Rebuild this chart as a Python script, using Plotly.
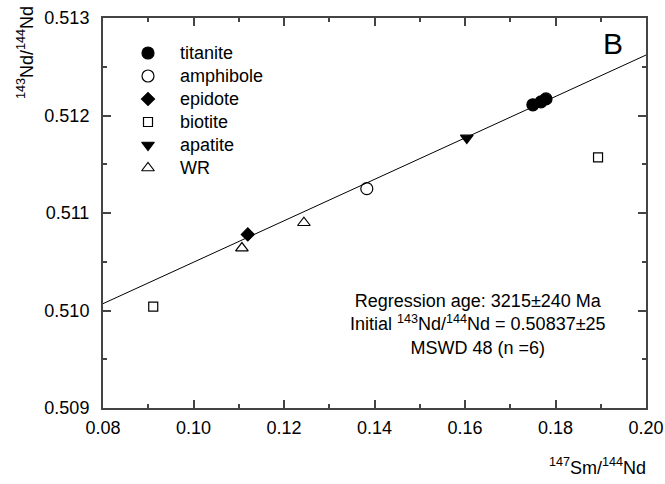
import plotly.graph_objects as go

# ---- data ----
titanite_x = [0.1750, 0.1768, 0.1779]
titanite_y = [0.51211, 0.51214, 0.51217]
amphibole_x = [0.1383]
amphibole_y = [0.51125]
epidote_x = [0.1120]
epidote_y = [0.51078]
biotite_x = [0.0911, 0.1894]
biotite_y = [0.51004, 0.51157]
apatite_x = [0.1604]
apatite_y = [0.51177]
wr_x = [0.1107, 0.1244]
wr_y = [0.51064, 0.51090]

# regression (isochron) parameters
iso_intercept = 0.50837
iso_slope = 0.02125
x_range = [0.08, 0.20]
y_range = [0.509, 0.513]
x_ticks = [0.08, 0.10, 0.12, 0.14, 0.16, 0.18, 0.20]
x_ticklabels = ["0.08", "0.10", "0.12", "0.14", "0.16", "0.18", "0.20"]
y_ticks = [0.509, 0.510, 0.511, 0.512, 0.513]
y_ticklabels = ["0.509", "0.510", "0.511", "0.512", "0.513"]

FONT = "Liberation Sans, Arial, sans-serif"
AX = "#444444"

W, H = 665, 484
# plot area in window pixels
PL, PR, PT, PB = 103, 646, 18, 408
pw, ph = PR - PL, PB - PT


def px_x(v):
    return (v - PL) / pw


def px_y(v):
    return 1 - (v - PT) / ph


fig = go.Figure()

line_y = [iso_intercept + iso_slope * v for v in x_range]
fig.add_trace(go.Scatter(x=x_range, y=line_y, mode="lines",
                         line=dict(color="black", width=1), showlegend=False,
                         hoverinfo="skip"))

series = [
    ("titanite", titanite_x, titanite_y, "circle", 12),
    ("amphibole", amphibole_x, amphibole_y, "circle-open", 12),
    ("epidote", epidote_x, epidote_y, "diamond", 10),
    ("biotite", biotite_x, biotite_y, "square-open", 9),
    ("apatite", apatite_x, apatite_y, "triangle-down", 11),
    ("WR", wr_x, wr_y, "triangle-up-open", 11),
]

# legend layout (window pixels)
leg_sym_x = 148
leg_text_x = 178
leg_y0 = 53
leg_dy = 23

annotations = []
for i, (name, xs, ys, sym, size) in enumerate(series):
    mk = dict(symbol=sym, size=size, color="black",
              line=dict(color="black", width=1.2))
    fig.add_trace(go.Scatter(x=xs, y=ys, mode="markers", name=name,
                             marker=mk, showlegend=False))
    ly = leg_y0 + i * leg_dy
    fig.add_trace(go.Scatter(x=[px_x(leg_sym_x)], y=[px_y(ly)], mode="markers",
                             xaxis="x2", yaxis="y2", marker=mk,
                             showlegend=False, hoverinfo="skip"))
    annotations.append(dict(text=name, x=px_x(leg_text_x), y=px_y(ly),
                            xref="paper", yref="paper", xanchor="left",
                            yanchor="middle", showarrow=False,
                            font=dict(size=18)))

annotations += [
    dict(text="Regression age: 3215±240 Ma<br>Initial <sup>143</sup>Nd/<sup>144</sup>Nd = 0.50837±25<br>MSWD 48 (n =6)",
         x=px_x(478), y=px_y(324), font=dict(size=18), align="center"),
    dict(text="B", x=px_x(613), y=px_y(44), font=dict(size=30)),
    dict(text="<sup>147</sup>Sm/<sup>144</sup>Nd", x=px_x(597), y=px_y(467),
         font=dict(size=18)),
    dict(text="<sup>143</sup>Nd/<sup>144</sup>Nd", x=px_x(25), y=px_y(53),
         textangle=-90, font=dict(size=18)),
]
for a in annotations[len(series):]:
    a.update(xref="paper", yref="paper", xanchor="center", yanchor="middle",
             showarrow=False)

fig.update_layout(
    width=W, height=H,
    margin=dict(l=PL, r=W - PR, t=PT, b=H - PB, autoexpand=False),
    paper_bgcolor="white", plot_bgcolor="white",
    font=dict(family=FONT, size=18, color="black"),
    showlegend=False,
    annotations=annotations,
    xaxis2=dict(range=[0, 1], domain=[0, 1], overlaying="x", visible=False,
                fixedrange=True),
    yaxis2=dict(range=[0, 1], domain=[0, 1], overlaying="y", visible=False,
                fixedrange=True, anchor="x2"),
    xaxis=dict(
        range=x_range, tickvals=x_ticks, ticktext=x_ticklabels,
        ticks="inside", ticklen=8, tickwidth=1.5, tickcolor=AX,
        minor=dict(dtick=0.01, ticks="inside", ticklen=4, tickcolor=AX, tickwidth=1.5),
        showline=True, linecolor=AX, linewidth=2, mirror="ticks",
        showgrid=False, zeroline=False, ticklabelstandoff=2, automargin=False,
        tickfont=dict(size=18)),
    yaxis=dict(
        range=y_range, tickvals=y_ticks, ticktext=y_ticklabels,
        ticks="inside", ticklen=8, tickwidth=1.5, tickcolor=AX,
        minor=dict(dtick=0.0005, ticks="inside", ticklen=4, tickcolor=AX, tickwidth=1.5),
        showline=True, linecolor=AX, linewidth=2, mirror="ticks",
        showgrid=False, zeroline=False, ticklabelstandoff=8, automargin=False,
        tickfont=dict(size=18)),
)

# remove the default 8px page margin so the figure fills the window exactly
fig.write_html(
    "out.html",
    config={"displayModeBar": False},
    post_script="document.body.style.margin='0';document.body.style.overflow='hidden';",
)
